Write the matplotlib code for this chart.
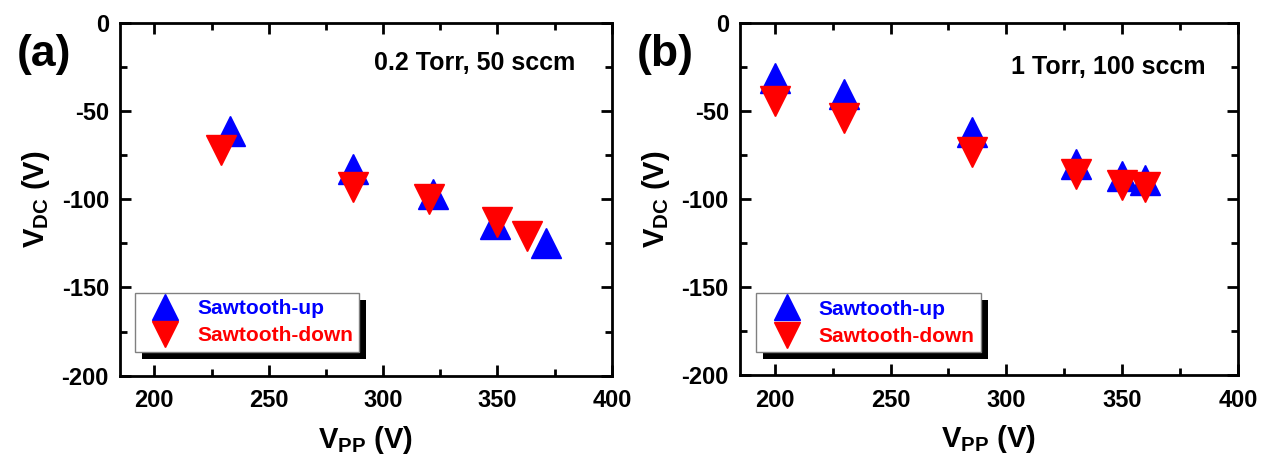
import matplotlib
matplotlib.use('Agg')
import matplotlib.pyplot as plt
from matplotlib.patches import Rectangle
from matplotlib.ticker import MultipleLocator
from matplotlib.transforms import IdentityTransform

plt.rcParams['font.family'] = ['Liberation Sans', 'DejaVu Sans']
plt.rcParams['font.weight'] = 'bold'
plt.rcParams['axes.unicode_minus'] = False
plt.rcParams['mathtext.fontset'] = 'custom'
plt.rcParams['mathtext.rm'] = 'Liberation Sans:bold'
plt.rcParams['mathtext.bf'] = 'Liberation Sans:bold'
plt.rcParams['mathtext.default'] = 'bf'

# panel (a): 0.2 Torr, 50 sccm
a_up_x = [233, 287, 322, 349, 371]
a_up_y = [-61, -83, -97, -114, -125]
a_down_x = [229, 287, 320, 350, 363]
a_down_y = [-72, -93, -100, -113, -121]

# panel (b): 1 Torr, 100 sccm
b_up_x = [200, 230, 285, 330, 350, 360]
b_up_y = [-31, -40, -62, -80, -87, -89]
b_down_x = [200, 230, 285, 330, 350, 360]
b_down_y = [-44, -54, -73, -86, -92, -93]

panels = [
    ('(a)', '0.2 Torr, 50 sccm', a_up_x, a_up_y, a_down_x, a_down_y),
    ('(b)', '1 Torr, 100 sccm', b_up_x, b_up_y, b_down_x, b_down_y),
]
axes_pos = [[0.0952, 0.187, 0.390, 0.763], [0.5868, 0.188, 0.395, 0.762]]
note_pos = [(0.925, 0.887), (0.934, 0.875)]
legend_pos = [(0.030, 0.068), (0.033, 0.065)]
tag_x = [0.013, 0.505]

fig = plt.figure(figsize=(12.61, 4.62), dpi=100)
legends = []

for i, (tag, note, ux, uy, dx, dy) in enumerate(panels):
    ax = fig.add_axes(axes_pos[i])
    ax.plot(ux, uy, linestyle='none', marker='^', ms=21, color='#0000ff',
            label='Sawtooth-up', clip_on=False)
    ax.plot(dx, dy, linestyle='none', marker='v', ms=21, color='#ff0000',
            label='Sawtooth-down', clip_on=False)

    ax.set_xlim(185, 400)
    ax.set_ylim(-200, 0)
    ax.xaxis.set_major_locator(MultipleLocator(50))
    ax.xaxis.set_minor_locator(MultipleLocator(25))
    ax.yaxis.set_major_locator(MultipleLocator(50))
    ax.yaxis.set_minor_locator(MultipleLocator(25))
    ax.tick_params(which='both', direction='in', top=True, right=True,
                   width=2, labelsize=17)
    ax.tick_params(axis='x', pad=10)
    ax.tick_params(axis='y', pad=8)
    ax.tick_params(which='major', length=8)
    ax.tick_params(which='minor', length=5)
    for sp in ax.spines.values():
        sp.set_linewidth(2)

    ax.set_xlabel('V$_{PP}$ (V)', fontsize=21, fontweight='bold', labelpad=8)
    ax.set_ylabel('V$_{DC}$ (V)', fontsize=21, fontweight='bold', labelpad=7)

    ax.text(note_pos[i][0], note_pos[i][1], note, transform=ax.transAxes,
            ha='right', va='center', fontsize=18, fontweight='bold')
    fig.text(tag_x[i], 0.881, tag, fontsize=32, fontweight='bold',
             ha='left', va='center')

    leg = ax.legend(loc='lower left', bbox_to_anchor=legend_pos[i],
                    borderaxespad=0, fancybox=False, framealpha=1,
                    edgecolor='#808080', fontsize=15, handlelength=2.3,
                    handletextpad=0.4, labelspacing=0.4, borderpad=0.3,
                    markerscale=0.9)
    leg.get_frame().set_linewidth(1)
    leg.set_zorder(6)
    for txt, c in zip(leg.get_texts(), ['#0000ff', '#ff0000']):
        txt.set_color(c)
        txt.set_fontweight('bold')
    legends.append((ax, leg))

# black drop shadow behind each legend box
fig.canvas.draw()
for ax, leg in legends:
    bb = leg.get_frame().get_window_extent()
    shadow = Rectangle((bb.x0 + 7, bb.y0 - 7), bb.width, bb.height,
                       transform=IdentityTransform(), facecolor='black',
                       edgecolor='none', zorder=5.5, clip_on=False)
    ax.add_artist(shadow)

fig.savefig('out.png', dpi=100)
